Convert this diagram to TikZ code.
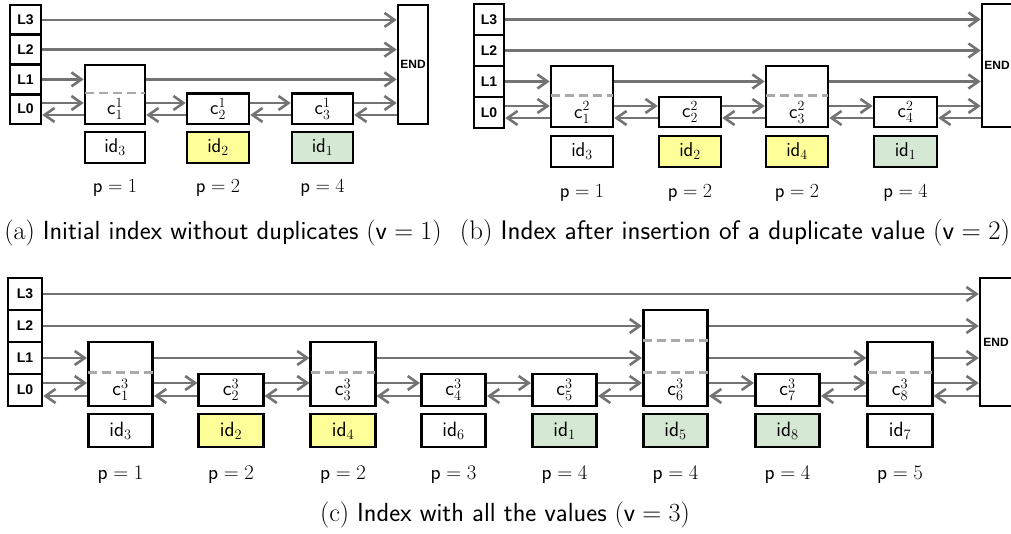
\RequirePackage{fix-cm}
\documentclass[tikz,border=0pt]{standalone}
\usepackage{fontspec}
\usetikzlibrary{arrows.meta,calc}
\newfontfamily\levelfont{Liberation Sans}
\definecolor{linkgray}{HTML}{737373}
\definecolor{sepgray}{HTML}{AAAAAA}
\definecolor{dupyellow}{HTML}{FFFF99}
\definecolor{dupgreen}{HTML}{D5E8D4}
\newcommand\sz[1]{\fontsize{#1}{#1}\selectfont}
\newcommand\cc[2]{$\mathsf{c}^{#1}_{#2}$}
\newcommand\idx[1]{$\mathsf{id}_{#1}$}
\newcommand\pp[1]{$\mathsf{p}=#1$}
\begin{document}
\begin{tikzpicture}[x=1pt,y=1pt,
  box/.style={draw=black,line width=2.6pt,inner sep=0pt},
  lvl/.style={box,font=\levelfont\bfseries\sz{14}},
  endbox/.style={box,font=\levelfont\bfseries\sz{12}},
  link/.style={draw=linkgray,line width=2.6pt,line join=miter,
    -{Straight Barb[length=10pt,width=14pt]}},
  sep/.style={draw=sepgray,line width=2.6pt,dash pattern=on 9pt off 5pt,
    shorten <=1.3pt,shorten >=1.3pt},
  caption/.style={font=\sz{26.2}},
  yel/.style={fill=dupyellow},
  grn/.style={fill=dupgreen}]
\useasboundingbox (0,0) rectangle (1011,-534);

% ---------- (a) initial index ----------
\begin{scope}[every node/.style={font=\sz{20}}]
\foreach \n/\y in {3/19.9,2/49.6,1/79.4,0/109.1}
  \node[lvl,minimum width=31,minimum height=29.75] (aL\n) at (25.5,-\y) {L\n};
\node[box,minimum width=60,minimum height=59] (ac1) at (115,-94.5) {};
\node[box,minimum width=62,minimum height=30.5] (ac2) at (218,-108.75) {\cc12};
\node[box,minimum width=61,minimum height=30.5] (ac3) at (322.5,-108.75) {\cc13};
\node[endbox,minimum width=30,minimum height=119] (aEND) at (413,-64.5) {END};
\node (ac1t) at (ac1 |- aL0) {\cc11};
\draw[sep] (ac1.west |- aL0.north) -- (ac1.east |- aL0.north);
\coordinate (af) at (0,-103);
\coordinate (ab) at (0,-115);
\draw[link] (aL3.east) -- (aL3.east -| aEND.west);
\draw[link] (aL2.east) -- (aL2.east -| aEND.west);
\draw[link] (aL1.east) -- (aL1.east -| ac1.west);
\draw[link] (ac1.east |- aL1) -- (aL1 -| aEND.west);
\foreach \u/\v in {aL0/ac1,ac1/ac2,ac2/ac3,ac3/aEND}{
  \draw[link] (\u.east |- af) -- (\v.west |- af);
  \draw[link] (\v.west |- ab) -- (\u.east |- ab);}
\node[box,minimum width=60,minimum height=31] (aid3) at (115,-147.5) {\idx3};
\node[box,yel,minimum width=62,minimum height=31] (aid2) at (218,-147.5) {\idx2};
\node[box,grn,minimum width=61,minimum height=31] (aid1) at (322.5,-147.5) {\idx1};
\node (ap1) at (115,-188) {\pp1};
\node (ap2) at (218,-188) {\pp2};
\node (ap3) at (322.5,-188) {\pp4};
\node[caption] (capa) at (223,-233) {(a) \textsf{Initial index without duplicates} $(\mathsf{v}=1)$};
\end{scope}

% ---------- (b) after a duplicate insertion ----------
\begin{scope}[every node/.style={font=\sz{20}}]
\foreach \n/\y in {3/19.5,2/50.5,1/81.5,0/112.5}
  \node[lvl,minimum width=30,minimum height=31] (bL\n) at (489,-\y) {L\n};
\node[box,minimum width=62,minimum height=61] (bc1) at (582,-96.5) {};
\node[box,minimum width=62,minimum height=30] (bc2) at (690,-112) {\cc22};
\node[box,minimum width=62,minimum height=61] (bc3) at (797,-96.5) {};
\node[box,minimum width=63,minimum height=30] (bc4) at (905.5,-112) {\cc24};
\node[endbox,minimum width=30,minimum height=123] (bEND) at (997,-65.5) {END};
\node (bc1t) at (bc1 |- bL0) {\cc21};
\node (bc3t) at (bc3 |- bL0) {\cc23};
\draw[sep] (bc1.west |- bL0.north) -- (bc1.east |- bL0.north);
\draw[sep] (bc3.west |- bL0.north) -- (bc3.east |- bL0.north);
\coordinate (bf) at (0,-106);
\coordinate (bb) at (0,-118);
\draw[link] (bL3.east) -- (bL3.east -| bEND.west);
\draw[link] (bL2.east) -- (bL2.east -| bEND.west);
\draw[link] (bL1.east) -- (bL1.east -| bc1.west);
\draw[link] (bc1.east |- bL1) -- (bL1 -| bc3.west);
\draw[link] (bc3.east |- bL1) -- (bL1 -| bEND.west);
\foreach \u/\v in {bL0/bc1,bc1/bc2,bc2/bc3,bc3/bc4,bc4/bEND}{
  \draw[link] (\u.east |- bf) -- (\v.west |- bf);
  \draw[link] (\v.west |- bb) -- (\u.east |- bb);}
\node[box,minimum width=62,minimum height=31] (bid3) at (582,-151.5) {\idx3};
\node[box,yel,minimum width=62,minimum height=31] (bid2) at (690,-151.5) {\idx2};
\node[box,yel,minimum width=62,minimum height=31] (bid4) at (797,-151.5) {\idx4};
\node[box,grn,minimum width=63,minimum height=31] (bid1) at (905.5,-151.5) {\idx1};
\node (bp1) at (582,-193) {\pp1};
\node (bp2) at (690,-193) {\pp2};
\node (bp3) at (797,-193) {\pp2};
\node (bp4) at (905.5,-193) {\pp4};
\node[caption,font=\sz{26.8}] (capb) at (735,-233) {(b) \textsf{Index after insertion of a duplicate value} $(\mathsf{v}=2)$};
\end{scope}

% ---------- (c) all the values ----------
\begin{scope}[every node/.style={font=\sz{20.74}}]
\foreach \n/\y in {3/294,2/326,1/358,0/390}
  \node[lvl,minimum width=34,minimum height=32] (cL\n) at (25,-\y) {L\n};
\node[box,minimum width=64.5,minimum height=64] (cc1) at (120.5,-374) {};
\node[box,minimum width=64.5,minimum height=32] (cc2) at (231,-390) {\cc32};
\node[box,minimum width=64.5,minimum height=64] (cc3) at (343,-374) {};
\node[box,minimum width=64.5,minimum height=32] (cc4) at (453.5,-390) {\cc34};
\node[box,minimum width=64.5,minimum height=32] (cc5) at (564.5,-390) {\cc35};
\node[box,minimum width=64.5,minimum height=96] (cc6) at (675.5,-358) {};
\node[box,minimum width=64.5,minimum height=32] (cc7) at (787.5,-390) {\cc37};
\node[box,minimum width=64.5,minimum height=64] (cc8) at (900,-374) {};
\node[endbox,minimum width=32,minimum height=128] (cEND) at (996,-342) {END};
\node (cc1t) at (cc1 |- cL0) {\cc31};
\node (cc3t) at (cc3 |- cL0) {\cc33};
\node (cc6t) at (cc6 |- cL0) {\cc36};
\node (cc8t) at (cc8 |- cL0) {\cc38};
\foreach \k in {cc1,cc3,cc6,cc8}
  \draw[sep] (\k.west |- cL0.north) -- (\k.east |- cL0.north);
\draw[sep] (cc6.west |- cL1.north) -- (cc6.east |- cL1.north);
\coordinate (cf) at (0,-383);
\coordinate (cb) at (0,-396);
\draw[link] (cL3.east) -- (cL3.east -| cEND.west);
\draw[link] (cL2.east) -- (cL2.east -| cc6.west);
\draw[link] (cc6.east |- cL2) -- (cL2 -| cEND.west);
\draw[link] (cL1.east) -- (cL1.east -| cc1.west);
\foreach \u/\v in {cc1/cc3,cc3/cc6,cc6/cc8,cc8/cEND}
  \draw[link] (\u.east |- cL1) -- (cL1 -| \v.west);
\foreach \u/\v in {cL0/cc1,cc1/cc2,cc2/cc3,cc3/cc4,cc4/cc5,cc5/cc6,cc6/cc7,cc7/cc8,cc8/cEND}{
  \draw[link] (\u.east |- cf) -- (\v.west |- cf);
  \draw[link] (\v.west |- cb) -- (\u.east |- cb);}
\foreach \k/\i/\s/\p in {1/3//1,2/2/yel/2,3/4/yel/2,4/6//3,5/1/grn/4,6/5/grn/4,7/8/grn/4,8/7//5}{
  \node[box,\s,minimum width=64.5,minimum height=33] (cid\k) at (cc\k |- 0,-430.5) {\idx\i};
  \node (cp\k) at (cc\k |- 0,-475) {\pp\p};}
\node[caption] (capc) at (505,-515) {(c) \textsf{Index with all the values} $(\mathsf{v}=3)$};
\end{scope}
\end{tikzpicture}
\end{document}
